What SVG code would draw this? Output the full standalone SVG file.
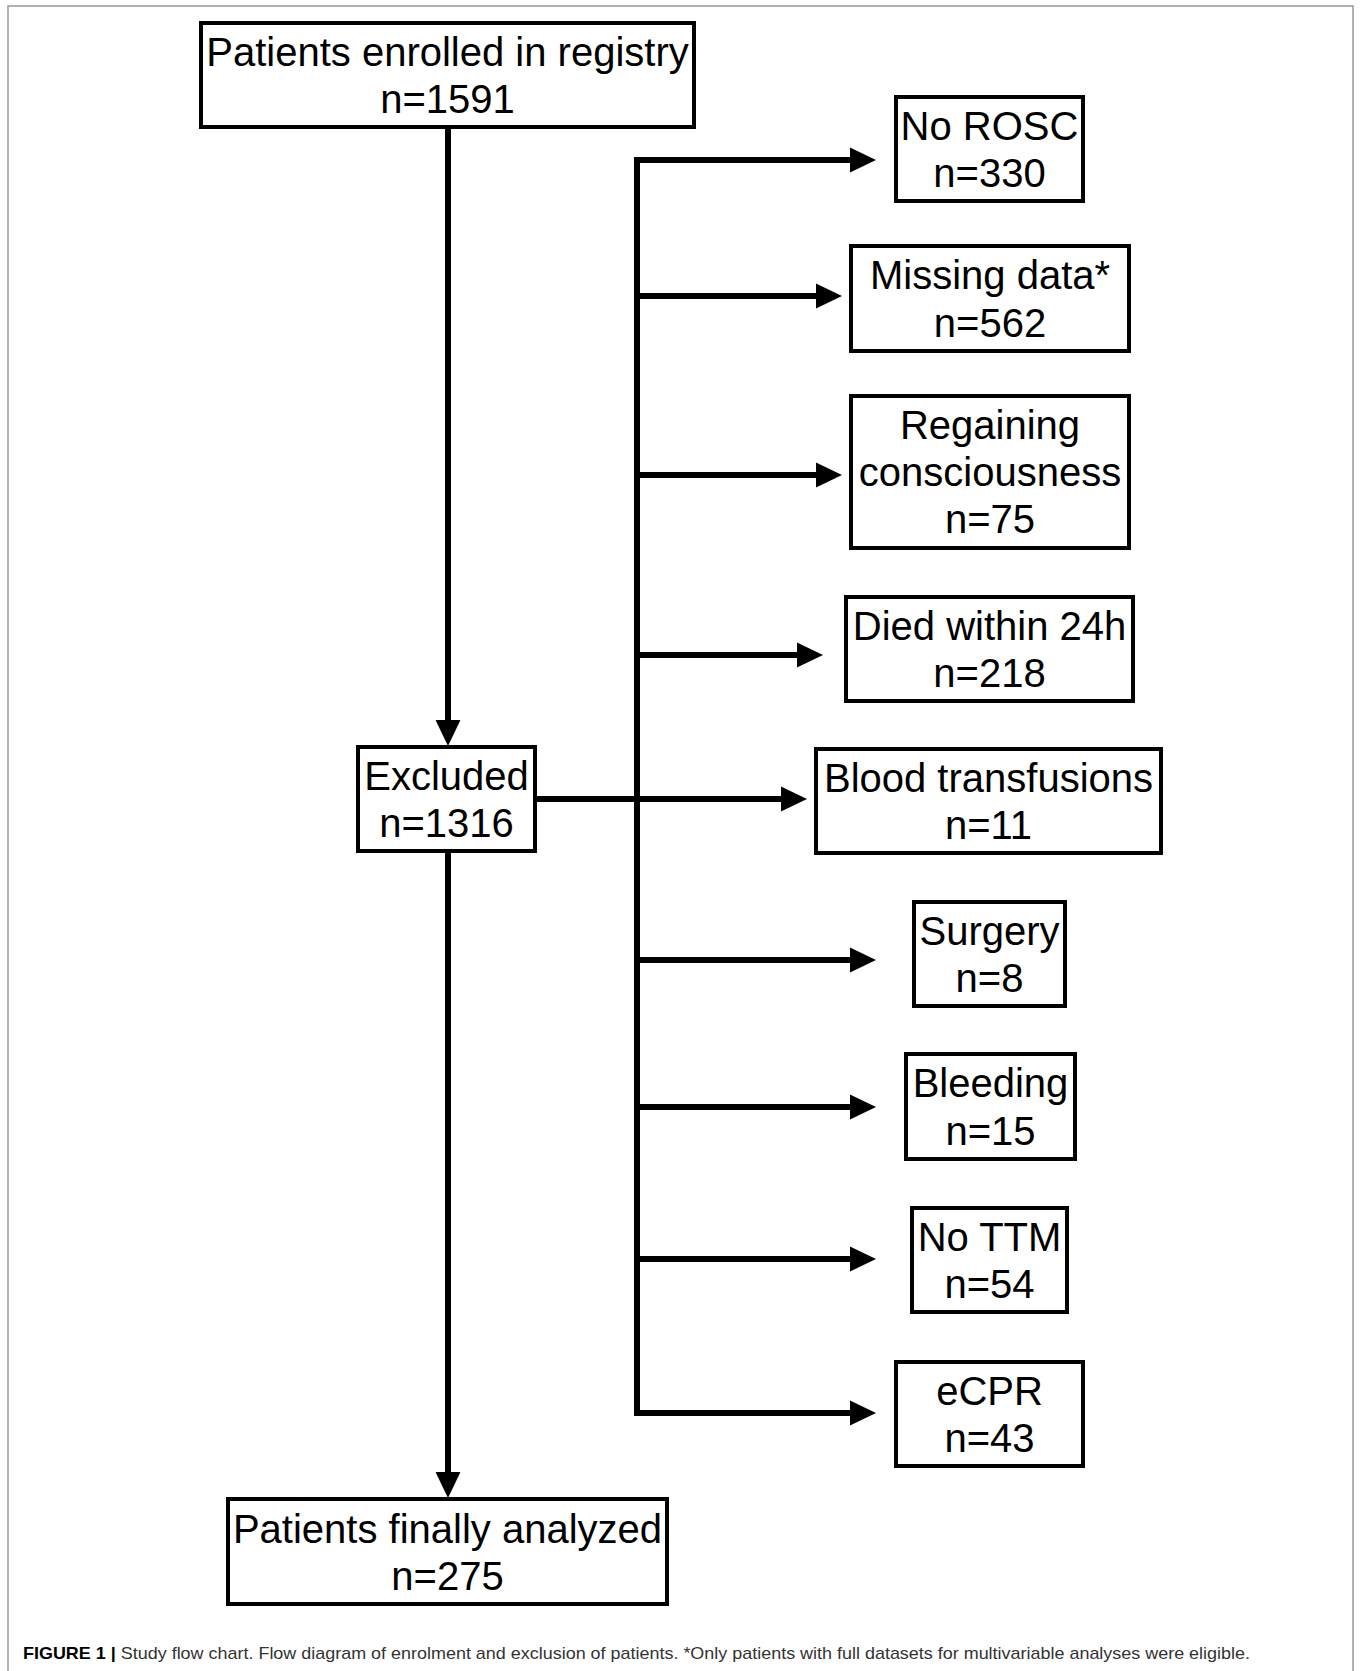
<svg xmlns="http://www.w3.org/2000/svg" width="1360" height="1671" viewBox="0 0 1360 1671">
<style>
.box rect{fill:#fff;stroke:#000;stroke-width:4}
.box text{font-family:"Liberation Sans",Arial,Helvetica,sans-serif;font-size:40px;fill:#000;text-anchor:middle}
.conn{fill:none;stroke:#000;stroke-width:6}
.cap{font-family:"Liberation Sans",Arial,Helvetica,sans-serif;font-size:17px;fill:#333}
</style>
<defs>
<marker id="ah" markerUnits="userSpaceOnUse" markerWidth="27" markerHeight="26" refX="0" refY="12.5" orient="auto" overflow="visible">
<path d="M0,0 L26,12.5 L0,25 Z" fill="#000"/>
</marker>
</defs>
<rect x="8" y="6" width="1345" height="1700" fill="#fff" stroke="#999" stroke-width="1.5"/>

<g id="connectors">
<path class="conn" d="M448 127 V720" marker-end="url(#ah)"/>
<path class="conn" d="M448 851 V1472" marker-end="url(#ah)"/>
<path class="conn" d="M637 157 V1416"/>
<path class="conn" d="M634 160 H850" marker-end="url(#ah)"/>
<path class="conn" d="M637 296 H816" marker-end="url(#ah)"/>
<path class="conn" d="M637 475 H816" marker-end="url(#ah)"/>
<path class="conn" d="M637 655 H797" marker-end="url(#ah)"/>
<path class="conn" d="M535 799 H781" marker-end="url(#ah)"/>
<path class="conn" d="M637 960 H850" marker-end="url(#ah)"/>
<path class="conn" d="M637 1107 H850" marker-end="url(#ah)"/>
<path class="conn" d="M637 1259 H850" marker-end="url(#ah)"/>
<path class="conn" d="M634 1413 H850" marker-end="url(#ah)"/>
</g>

<g id="enrolled" class="box">
<rect x="201" y="23" width="493" height="104"/>
<text x="447.5" y="66">Patients enrolled in registry</text>
<text x="447.5" y="113">n=1591</text>
</g>
<g id="excluded" class="box">
<rect x="358" y="747" width="177" height="104"/>
<text x="446.5" y="790">Excluded</text>
<text x="446.5" y="837">n=1316</text>
</g>
<g id="analyzed" class="box">
<rect x="228" y="1499" width="439" height="105"/>
<text x="447.5" y="1543">Patients finally analyzed</text>
<text x="447.5" y="1590">n=275</text>
</g>
<g id="no-rosc" class="box">
<rect x="896" y="97" width="187" height="104"/>
<text x="989.5" y="140">No ROSC</text>
<text x="989.5" y="187">n=330</text>
</g>
<g id="missing" class="box">
<rect x="851" y="246" width="278" height="105"/>
<text x="990" y="289">Missing data*</text>
<text x="990" y="337">n=562</text>
</g>
<g id="regaining" class="box">
<rect x="851" y="396" width="278" height="152"/>
<text x="990" y="439">Regaining</text>
<text x="990" y="486">consciousness</text>
<text x="990" y="533">n=75</text>
</g>
<g id="died" class="box">
<rect x="846" y="597" width="287" height="104"/>
<text x="989.5" y="640">Died within 24h</text>
<text x="989.5" y="687">n=218</text>
</g>
<g id="blood" class="box">
<rect x="816" y="749" width="345" height="104"/>
<text x="988.5" y="792">Blood transfusions</text>
<text x="988.5" y="839">n=11</text>
</g>
<g id="surgery" class="box">
<rect x="914" y="902" width="151" height="104"/>
<text x="989.5" y="945">Surgery</text>
<text x="989.5" y="992">n=8</text>
</g>
<g id="bleeding" class="box">
<rect x="906" y="1054" width="169" height="105"/>
<text x="990.5" y="1097">Bleeding</text>
<text x="990.5" y="1145">n=15</text>
</g>
<g id="no-ttm" class="box">
<rect x="912" y="1208" width="155" height="104"/>
<text x="989.5" y="1251">No TTM</text>
<text x="989.5" y="1298">n=54</text>
</g>
<g id="ecpr" class="box">
<rect x="896" y="1362" width="187" height="104"/>
<text x="989.5" y="1405">eCPR</text>
<text x="989.5" y="1452">n=43</text>
</g>

<text class="cap" x="23" y="1659" textLength="1227" lengthAdjust="spacingAndGlyphs"><tspan font-weight="bold" fill="#000">FIGURE 1 |</tspan> Study flow chart. Flow diagram of enrolment and exclusion of patients. *Only patients with full datasets for multivariable analyses were eligible.</text>
</svg>
